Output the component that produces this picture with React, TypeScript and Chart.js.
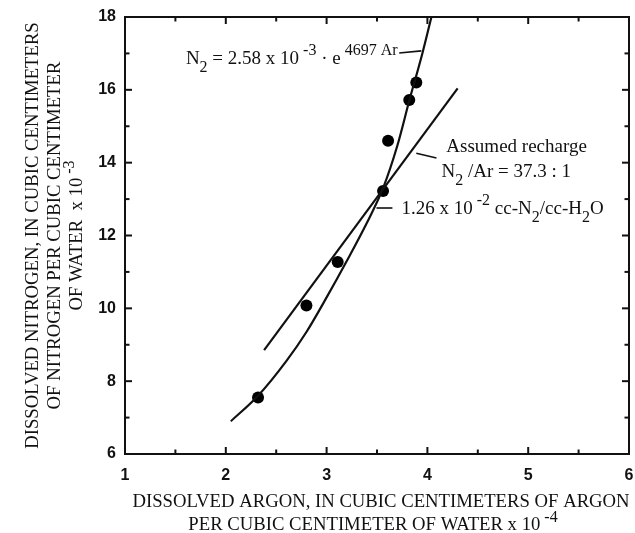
import React, { useEffect, useRef } from 'react';
import { Chart, registerables } from 'chart.js';

Chart.register(...registerables);

// ---- data ----
const sampleArgon = [2.32, 2.8, 3.11, 3.56, 3.61, 3.82, 3.89];
const sampleNitrogen = [7.55, 10.08, 11.27, 13.22, 14.6, 15.72, 16.2];

const curveArgon = [2.05, 2.32, 2.6, 2.8, 3.0, 3.2, 3.4, 3.56, 3.7, 3.82, 3.95, 4.04];
const curveNitrogen = [6.9, 7.6, 8.55, 9.35, 10.3, 11.3, 12.35, 13.3, 14.45, 15.7, 17.0, 18.0];

const rechargeArgon = [2.38, 4.3];
const rechargeNitrogen = [8.85, 16.04];

const xMin = 1, xMax = 6, xStep = 1, xMinorStep = 0.5;
const yMin = 6, yMax = 18, yStep = 2, yMinorStep = 1;

type Seg = { t: string; k?: 'sup' | 'sub' };

const formulaText: Seg[] = [
  { t: 'N' }, { t: '2', k: 'sub' }, { t: ' = 2.58 x 10' }, { t: ' -3', k: 'sup' },
  { t: ' \u00B7 e' }, { t: ' 4697 Ar', k: 'sup' },
];
const rechargeText1: Seg[] = [{ t: 'Assumed recharge' }];
const rechargeText2: Seg[] = [{ t: 'N' }, { t: '2', k: 'sub' }, { t: ' /Ar = 37.3 : 1' }];
const rechargeText3: Seg[] = [
  { t: '1.26 x 10' }, { t: ' -2', k: 'sup' }, { t: ' cc-N' }, { t: '2', k: 'sub' },
  { t: '/cc-H' }, { t: '2', k: 'sub' }, { t: 'O' },
];
const xTitle: Seg[][] = [
  [{ t: 'DISSOLVED ARGON, IN CUBIC CENTIMETERS OF ARGON' }],
  [{ t: 'PER CUBIC CENTIMETER OF WATER x 10' }, { t: ' -4', k: 'sup' }],
];
const yTitle: Seg[][] = [
  [{ t: 'DISSOLVED NITROGEN, IN CUBIC CENTIMETERS' }],
  [{ t: 'OF NITROGEN PER CUBIC CENTIMETER' }],
  [{ t: 'OF WATER  x 10' }, { t: ' -3', k: 'sup' }],
];

// annotation anchors in data units
const notes = [
  { segs: formulaText, x: 1.604, y: 16.71 },
  { segs: rechargeText1, x: 4.188, y: 14.29 },
  { segs: rechargeText2, x: 4.139, y: 13.6 },
  { segs: rechargeText3, x: 3.743, y: 12.59 },
];
const leaders = [
  { x1: 3.72, y1: 17.01, x2: 3.94, y2: 17.07 },
  { x1: 3.89, y1: 14.26, x2: 4.09, y2: 14.13 },
  { x1: 3.495, y1: 12.755, x2: 3.653, y2: 12.755 },
];

const SERIF = "'Liberation Serif', 'Times New Roman', serif";
const SANS = "'Liberation Sans Narrow', 'Liberation Sans', Arial, sans-serif";
const INK = '#111';

function richWidth(ctx: CanvasRenderingContext2D, segs: Seg[], size: number) {
  let w = 0;
  for (const s of segs) {
    ctx.font = `${s.k ? Math.round(size * 0.85) : size}px ${SERIF}`;
    w += ctx.measureText(s.t).width;
  }
  return w;
}

function drawRich(
  ctx: CanvasRenderingContext2D, segs: Seg[], x: number, y: number, size: number,
  align: 'left' | 'center' = 'left'
) {
  const w = richWidth(ctx, segs, size);
  let cx = align === 'center' ? x - w / 2 : x;
  ctx.textAlign = 'left';
  ctx.textBaseline = 'alphabetic';
  for (const s of segs) {
    const fs = s.k ? Math.round(size * 0.85) : size;
    ctx.font = `${fs}px ${SERIF}`;
    const dy = s.k === 'sup' ? -size * 0.45 : s.k === 'sub' ? size * 0.4 : 0;
    ctx.fillText(s.t, cx, y + dy);
    cx += ctx.measureText(s.t).width;
  }
}

const decor = {
  id: 'decor',
  afterDraw(chart: any) {
    const { ctx, chartArea: a, scales } = chart;
    const xs = scales.x, ys = scales.y;
    ctx.save();
    ctx.strokeStyle = INK;
    ctx.fillStyle = INK;
    ctx.lineWidth = 2;
    ctx.strokeRect(a.left, a.top, a.right - a.left, a.bottom - a.top);

    const seg = (x1: number, y1: number, x2: number, y2: number) => {
      ctx.beginPath(); ctx.moveTo(x1, y1); ctx.lineTo(x2, y2); ctx.stroke();
    };
    const nx = Math.round((xMax - xMin) / xMinorStep);
    for (let i = 0; i <= nx; i++) {
      const v = xMin + i * xMinorStep;
      const major = Math.abs((v - xMin) / xStep - Math.round((v - xMin) / xStep)) < 1e-6;
      const len = major ? 7 : 4.5;
      const px = xs.getPixelForValue(v);
      seg(px, a.bottom, px, a.bottom - len);
      seg(px, a.top, px, a.top + len);
    }
    const ny = Math.round((yMax - yMin) / yMinorStep);
    for (let i = 0; i <= ny; i++) {
      const v = yMin + i * yMinorStep;
      const major = Math.abs((v - yMin) / yStep - Math.round((v - yMin) / yStep)) < 1e-6;
      const len = major ? 7 : 4.5;
      const py = ys.getPixelForValue(v);
      seg(a.left, py, a.left + len, py);
      seg(a.right, py, a.right - len, py);
    }

    // leaders
    ctx.lineWidth = 1.6;
    for (const l of leaders) {
      seg(xs.getPixelForValue(l.x1), ys.getPixelForValue(l.y1), xs.getPixelForValue(l.x2), ys.getPixelForValue(l.y2));
    }
    // annotations
    for (const n of notes) {
      drawRich(ctx, n.segs, xs.getPixelForValue(n.x), ys.getPixelForValue(n.y), 19);
    }

    // x title
    const cxT = (a.left + a.right) / 2 + 4;
    drawRich(ctx, xTitle[0], cxT, a.bottom + 53, 18.7, 'center');
    drawRich(ctx, xTitle[1], cxT - 8, a.bottom + 76, 18.7, 'center');

    // y title (rotated)
    const cyT = (a.top + a.bottom) / 2;
    const baseX = [38, 60, 82];
    yTitle.forEach((line, i) => {
      ctx.save();
      ctx.translate(baseX[i], cyT);
      ctx.rotate(-Math.PI / 2);
      drawRich(ctx, line, 0, 0, 18.7, 'center');
      ctx.restore();
    });
    ctx.restore();
  },
};

export default function App() {
  const ref = useRef<HTMLCanvasElement | null>(null);
  useEffect(() => {
    document.body.style.margin = '0';
    const canvas = ref.current;
    if (!canvas) return;
    const pts = (xs: number[], ys: number[]) => xs.map((x, i) => ({ x, y: ys[i] }));
    const chart = new Chart(canvas, {
      type: 'scatter',
      data: {
        datasets: [
          {
            label: 'Exponential fit',
            data: pts(curveArgon, curveNitrogen),
            showLine: true,
            borderColor: INK,
            borderWidth: 2.2,
            pointRadius: 0,
            cubicInterpolationMode: 'monotone',
            fill: false,
          },
          {
            label: 'Assumed recharge',
            data: pts(rechargeArgon, rechargeNitrogen),
            showLine: true,
            borderColor: INK,
            borderWidth: 2.2,
            pointRadius: 0,
            fill: false,
          },
          {
            label: 'Samples',
            data: pts(sampleArgon, sampleNitrogen),
            showLine: false,
            pointRadius: 6,
            pointBackgroundColor: '#000',
            pointBorderColor: '#000',
            pointBorderWidth: 0,
          },
        ],
      } as any,
      options: {
        animation: false,
        responsive: false,
        layout: { padding: { top: 17, right: 5, left: 0, bottom: 0 } },
        plugins: { legend: { display: false }, tooltip: { enabled: false } },
        scales: {
          x: {
            type: 'linear',
            min: xMin,
            max: xMax,
            grid: { display: false, drawTicks: false },
            border: { display: false },
            ticks: {
              stepSize: xStep,
              color: INK,
              padding: 12,
              font: { family: SANS, size: 16, weight: 'bold' },
            },
            afterFit: (s: any) => { s.height = 79; s.paddingLeft = 0; s.paddingRight = 0; },
          },
          y: {
            type: 'linear',
            min: yMin,
            max: yMax,
            grid: { display: false, drawTicks: false },
            border: { display: false },
            ticks: {
              stepSize: yStep,
              color: INK,
              padding: 9,
              font: { family: SANS, size: 16, weight: 'bold' },
            },
            afterFit: (s: any) => { s.width = 125; s.paddingTop = 0; s.paddingBottom = 0; },
          },
        },
      } as any,
      plugins: [decor],
    });
    return () => chart.destroy();
  }, []);
  return (
    <div style={{ width: 635, height: 533 }}>
      <canvas ref={ref} width={635} height={533} style={{ display: 'block' }} />
    </div>
  );
}
